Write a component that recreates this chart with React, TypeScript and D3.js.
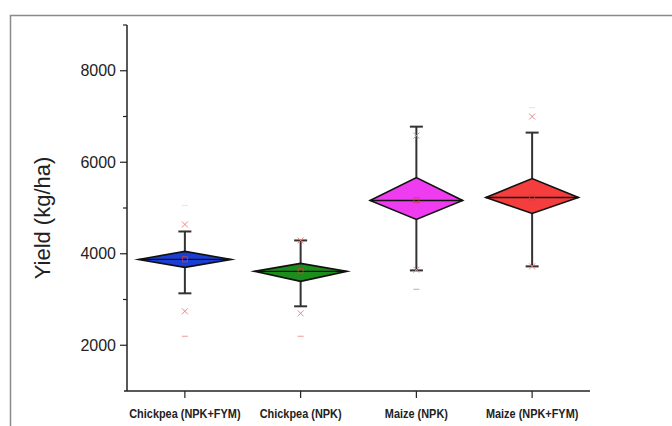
import React from "react";
import * as d3 from "d3";

const categories = ["Chickpea (NPK+FYM)", "Chickpea (NPK)", "Maize (NPK)", "Maize (NPK+FYM)"];
const colors = ["#1a3fd6", "#1c8c1c", "#f03cf0", "#f53d3d"];
const medianVals = [3876, 3615, 5164, 5229];
const upperVals = [4051, 3789, 5666, 5644];
const lowerVals = [3702, 3396, 4749, 4880];
const whiskerHigh = [4487, 4291, 6778, 6648];
const whiskerLow = [3135, 2851, 3636, 3724];
const meanVals = [3880, 3620, 5170, 5225];
const p99Vals = [4640, 4291, 6582, 7000];
const p1Vals = [2742, 2698, 3650, 3724];
const minVals: (number | null)[] = [2196, 2196, 3222, null];
const maxVals: (number | null)[] = [5055, null, null, 7195];
const majorTicks = [2000, 4000, 6000, 8000];
const minorTicks = [3000, 5000, 7000, 9000];

export default function App() {
  const W = 672, H = 426;
  const y = d3.scaleLinear().domain([1000, 9000]).range([391, 25]);
  const x = d3.scaleLinear().domain([0.5, 4.5]).range([127, 590]);
  const halfW = (x(1.4) - x(1));
  const capW = 6.5;
  const axisX = x(0.5);
  const axisY = y(1000);

  return (
    <svg width={W} height={H} style={{ position: "absolute", left: 0, top: 0, background: "#fff" }}>
      <path d={`M10.5,${H} V15.5 H${W}`} fill="none" stroke="#8a8a8a" strokeWidth={1.5} />
      {/* axes */}
      <line x1={axisX} x2={axisX} y1={y(9000)} y2={axisY} stroke="#222" strokeWidth={1.5} />
      <line x1={axisX - 3} x2={x(4.5)} y1={axisY} y2={axisY} stroke="#222" strokeWidth={1.5} />
      {majorTicks.map((t) => (
        <g key={t}>
          <line x1={axisX - 7} x2={axisX} y1={y(t)} y2={y(t)} stroke="#222" strokeWidth={1.2} />
          <text x={axisX - 11} y={y(t)} dy="0.35em" textAnchor="end" fontFamily="'Liberation Sans', Arial, sans-serif" fontSize={16} fill="#222">
            {t}
          </text>
        </g>
      ))}
      {minorTicks.map((t) => (
        <line key={t} x1={axisX - 4} x2={axisX} y1={y(t)} y2={y(t)} stroke="#222" strokeWidth={1.2} />
      ))}
      <text transform={`translate(42,218) rotate(-90)`} textAnchor="middle" dy="0.35em" fontFamily="'Liberation Sans', Arial, sans-serif" fontSize={22} fill="#222">
        Yield (kg/ha)
      </text>
      {categories.map((c, i) => {
        const cx = x(i + 1);
        return (
          <g key={c}>
            <line x1={cx} x2={cx} y1={axisY} y2={axisY + 7} stroke="#222" strokeWidth={1.2} />
            <text transform={`translate(${cx},418) scale(0.84,1)`} textAnchor="middle" fontFamily="'Liberation Sans', Arial, sans-serif" fontWeight="bold" fontSize={13} fill="#222">
              {c}
            </text>
          </g>
        );
      })}
      {categories.map((c, i) => {
        const cx = x(i + 1);
        const xs = (v: number, k: string, op = 1) => (
          <g key={k} stroke="#e88a8a" strokeWidth={1} opacity={op}>
            <line x1={cx - 3} x2={cx + 3} y1={y(v) - 3} y2={y(v) + 3} />
            <line x1={cx - 3} x2={cx + 3} y1={y(v) + 3} y2={y(v) - 3} />
          </g>
        );
        const dash = (v: number | null, k: string, op: number) =>
          v == null ? null : (
            <line key={k} x1={cx - 3} x2={cx + 3} y1={y(v)} y2={y(v)} stroke="#e88a8a" strokeWidth={1.2} opacity={op} />
          );
        const diamond = `M${cx - halfW},${y(medianVals[i])} L${cx},${y(upperVals[i])} L${cx + halfW},${y(medianVals[i])} L${cx},${y(lowerVals[i])} Z`;
        return (
          <g key={c + "box"}>
            <line x1={cx} x2={cx} y1={y(whiskerHigh[i])} y2={y(upperVals[i])} stroke="#333" strokeWidth={2} />
            <line x1={cx} x2={cx} y1={y(lowerVals[i])} y2={y(whiskerLow[i])} stroke="#333" strokeWidth={2} />
            <line x1={cx - capW} x2={cx + capW} y1={y(whiskerHigh[i])} y2={y(whiskerHigh[i])} stroke="#333" strokeWidth={2} />
            <line x1={cx - capW} x2={cx + capW} y1={y(whiskerLow[i])} y2={y(whiskerLow[i])} stroke="#333" strokeWidth={2} />
            <path d={diamond} fill={colors[i]} stroke="#111" strokeWidth={1.6} strokeLinejoin="miter" strokeMiterlimit={10} />
            <line x1={cx - halfW} x2={cx + halfW} y1={y(medianVals[i])} y2={y(medianVals[i])} stroke="#111" strokeWidth={1.4} />
            <rect x={cx - 2.5} y={y(meanVals[i]) - 2.5} width={5} height={5} fill="none" stroke="#d04040" strokeWidth={1} opacity={0.8} />
            {xs(p99Vals[i], "p99")}
            {xs(p1Vals[i], "p1")}
            {dash(minVals[i], "min", 0.7)}
            {dash(maxVals[i], "max", 0.25)}
          </g>
        );
      })}
    </svg>
  );
}
